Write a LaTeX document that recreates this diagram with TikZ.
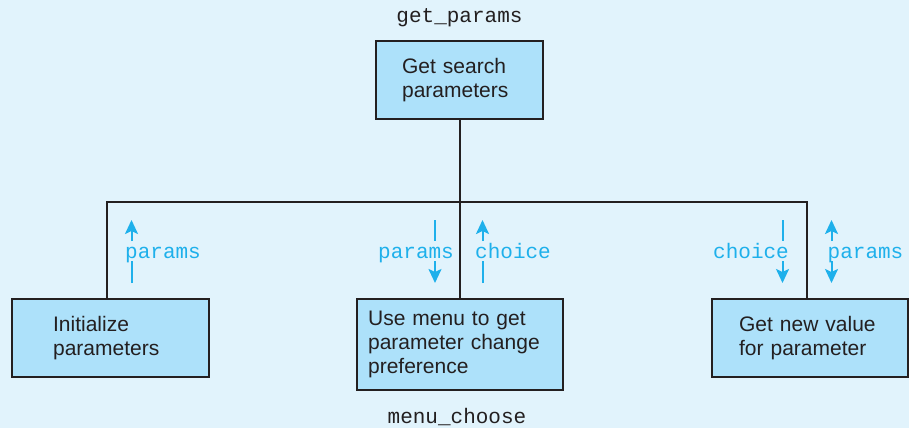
\documentclass[tikz,border=0pt]{standalone}
\usepackage{fontspec}
\setmainfont{Liberation Sans}
\setmonofont{Liberation Mono}
\usetikzlibrary{arrows.meta}
\definecolor{bgc}{RGB}{225,243,252}
\definecolor{boxc}{RGB}{173,225,250}
\definecolor{flowc}{RGB}{30,176,235}
\definecolor{inkc}{RGB}{35,31,32}
\begin{document}
\begin{tikzpicture}[x=1pt,y=-1pt,
 procbox/.style={draw=inkc, fill=boxc, line width=2.2pt, text=inkc, anchor=north west, align=left, inner ysep=0pt, font=\fontsize{21}{24}\selectfont},
 modname/.style={anchor=base, text=inkc, inner sep=0pt, font=\ttfamily\fontsize{21}{24}\selectfont},
 flowlbl/.style={anchor=base west, text=flowc, inner sep=0pt, font=\ttfamily\fontsize{21}{24}\selectfont},
 flowline/.style={draw=flowc, line width=2pt},
 flowtip/.style={flowline, -{Stealth[length=14pt,width=13pt,inset=3pt]}},
 link/.style={draw=inkc, line width=2pt}]
\useasboundingbox (0,0) rectangle (909,428);
\fill[bgc] (0,0) rectangle (909,428);

\node[procbox, text width=115pt, inner xsep=26pt, minimum height=78pt] (top) at (375,40) {Get search\\parameters};
\node[procbox, text width=115pt, inner xsep=41pt, minimum height=78pt] (init) at (11,298) {Initialize\\parameters};
\node[procbox, text width=184pt, inner xsep=11pt, minimum height=91pt] (menu) at (356,298) {Use menu to get\\parameter change\\preference};
\node[procbox, text width=142pt, inner xsep=27pt, minimum height=78pt] (newval) at (711,298) {Get new value\\for parameter};

\node[modname] (gp) at (459.5,23) {get\_params};
\node[modname] (mc) at (457,423) {menu\_choose};

\coordinate (busL) at (107,202);
\coordinate (busR) at (807,202);
\draw[link] (init.north -| busL) -- (busL) -- (busR) -- (newval.north -| busR);
\draw[link] (top.south) -- (top.south |- menu.north);

\foreach \n/\x in {a/131.5,b/435,c/482.5,d/782.5,e/831.5}{
  \coordinate (\n1) at (\x,220);
  \coordinate (\n2) at (\x,241);
  \coordinate (\n3) at (\x,261);
  \coordinate (\n4) at (\x,283);
}
\draw[flowtip] (a2) -- (a1); \draw[flowline] (a4) -- (a3);
\draw[flowline] (b1) -- (b2); \draw[flowtip] (b3) -- (b4);
\draw[flowtip] (c2) -- (c1); \draw[flowline] (c4) -- (c3);
\draw[flowline] (d1) -- (d2); \draw[flowtip] (d3) -- (d4);
\draw[flowtip] (e2) -- (e1); \draw[flowtip] (e3) -- (e4);

\node[flowlbl] (l1) at (125,258) {params};
\node[flowlbl] (l2) at (378,258) {params};
\node[flowlbl] (l3) at (475,258) {choice};
\node[flowlbl] (l4) at (713,258) {choice};
\node[flowlbl] (l5) at (827.5,258) {params};
\end{tikzpicture}
\end{document}
